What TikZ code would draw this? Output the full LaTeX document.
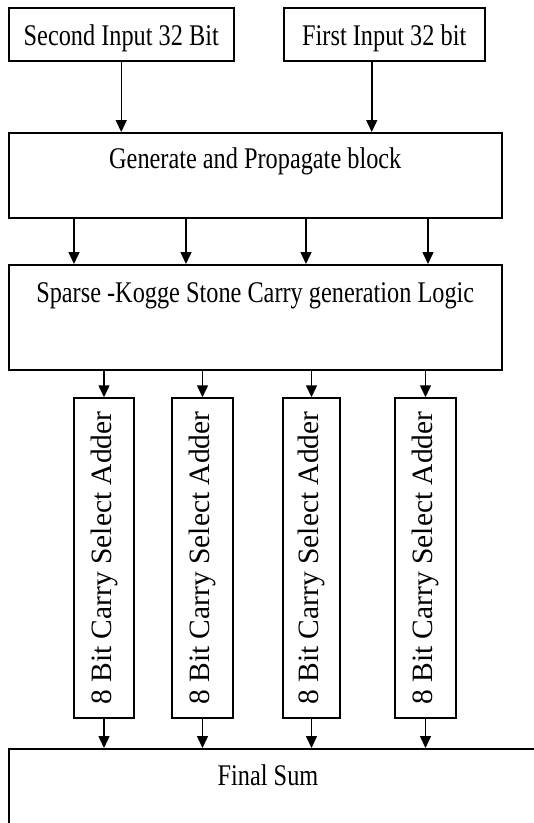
\documentclass[tikz,border=0pt]{standalone}
\usepackage{fontspec}
\setmainfont{Liberation Serif}[FakeStretch=0.81]
\newfontfamily\uprightserif{Liberation Serif}
\usetikzlibrary{positioning,arrows.meta}

\begin{document}
\begin{tikzpicture}[
    x=1pt,
    y=-1pt,
    font=\fontsize{30}{36}\selectfont,
    >={Triangle[length=12pt,width=11pt]},
    block/.style={
        draw,
        line width=1.5pt,
        inner sep=0pt,
        anchor=north west,
        align=center
    },
    adder/.style={
        draw,
        line width=1.5pt,
        inner sep=0pt,
        rotate=90,
        minimum width=320pt,
        font=\uprightserif\fontsize{29.5}{34}\selectfont
    },
    arrow/.style={
        ->,
        line width=1.5pt
    }
]
\clip (0,0) rectangle (534,823);

% inputs
\node[block, minimum width=225pt, text height=37.5pt, text depth=15.5pt] (second) at (8,7) {Second Input 32 Bit};
\node[block, minimum width=201pt, text height=37.5pt, text depth=15.5pt] (first) at (283,7) {First Input 32 bit};

% main blocks
\node[block, minimum width=493pt, text height=36pt, text depth=49pt] (gen) at (8,132) {Generate and Propagate block};
\node[block, minimum width=493pt, text height=38pt, text depth=67pt] (sparse) at (8,264) {Sparse -Kogge Stone Carry generation Logic};

\draw[arrow] (second.south) -- (second.south |- gen.north);
\draw[arrow] ([xshift=-12.5pt]first.south) -- ([xshift=-12.5pt]first.south |- gen.north);

\foreach \dx in {66,178,298,420}
    \draw[arrow] ([xshift=\dx pt]gen.south west) -- ([xshift=\dx pt]sparse.north west);

% carry select adders
\node[adder, minimum height=60pt] (add1) at (104,558) {8 Bit Carry Select Adder};
\node[adder, minimum height=61pt] (add2) at (202.5,558) {8 Bit Carry Select Adder};
\node[adder, minimum height=57pt] (add3) at (311.5,558) {8 Bit Carry Select Adder};
\node[adder, minimum height=61pt] (add4) at (425.5,558) {8 Bit Carry Select Adder};

% final sum
\node[block, minimum width=560pt, minimum height=120pt] (sum) at (8,748) {};
\node[anchor=base, inner sep=0pt] (sumtext) at (268,785) {Final Sum};

\foreach \n in {1,...,4} {
    \draw[arrow] (sparse.south -| add\n) -- (add\n.east);
    \draw[arrow] (add\n.west) -- (add\n.west |- sum.north);
}

\end{tikzpicture}
\end{document}
